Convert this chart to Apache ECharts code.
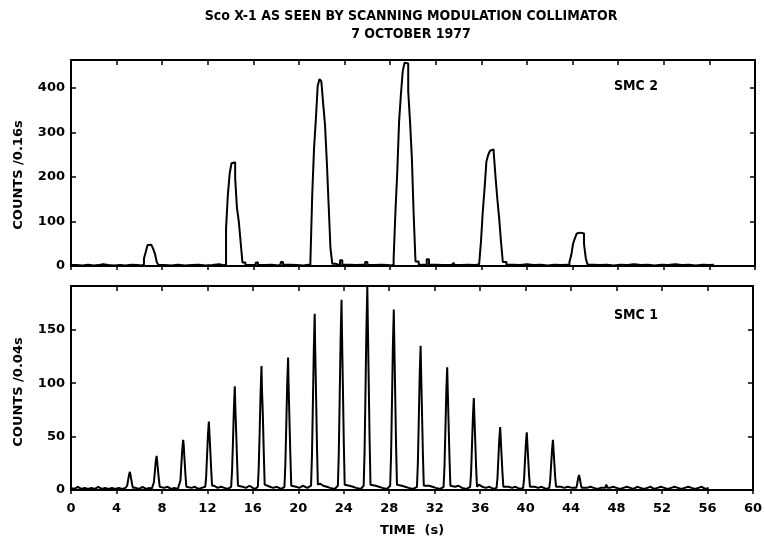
<!DOCTYPE html>
<html>
<head>
<meta charset="utf-8">
<script src="https://cdn.jsdelivr.net/npm/echarts@6/dist/echarts.min.js"></script>
<style>
  html, body { margin: 0; padding: 0; background: #fff; }
  #chart { width: 765px; height: 541px; }
</style>
</head>
<body>
<div id="chart"></div>
<script>
var xTicks = [0, 60, 4];          // min, max, step of TIME (s)
var smc2Ticks = [0, 463, 100];
var smc1Ticks = [0, 191, 50];

// SMC 2, counts per 0.16 s
var smc2Counts = [
    [0, 2], [0.5, 1], [1.0, 3], [1.5, 1], [2.0, 2], [2.4, 4], [2.8, 2], [3.3, 1], [3.8, 2], [4.3, 1], [4.8, 3], [5.3, 2], [5.8, 1], [6.2, 3],
    [6.4, 17], [6.56, 32], [6.72, 47], [6.88, 48], [7.04, 45], [7.2, 39], [7.36, 28], [7.52, 9], [7.68, 2],
    [8.2, 1], [8.8, 3], [9.4, 1], [10.0, 2], [10.6, 3], [11.2, 1], [11.8, 2], [12.4, 4], [13.0, 2], [13.4, 3],
    [13.6, 84], [13.76, 160], [13.92, 208], [14.08, 231], [14.24, 233], [14.4, 197], [14.56, 130], [14.72, 100], [14.88, 54], [15.04, 8],
    [15.3, 2], [15.8, 3], [16.2, 8], [16.4, 2], [17.0, 3], [17.6, 1], [18.2, 4], [18.4, 9], [18.6, 3], [19.2, 2], [19.8, 1], [20.4, 3], [20.8, 2],
    [21.0, 10], [21.16, 160], [21.32, 265], [21.48, 330], [21.64, 405], [21.8, 420], [21.96, 415], [22.12, 365], [22.28, 318], [22.44, 235], [22.6, 137], [22.76, 40], [22.92, 5],
    [23.2, 2], [23.6, 13], [23.8, 3], [24.4, 2], [25.0, 3], [25.6, 1], [25.8, 9], [26.0, 2], [26.6, 3], [27.2, 2], [27.8, 1], [28.1, 3],
    [28.3, 17], [28.46, 122], [28.62, 212], [28.78, 325], [28.94, 386], [29.1, 438], [29.26, 457], [29.42, 455], [29.58, 393], [29.74, 325], [29.9, 243], [30.06, 115], [30.22, 10],
    [30.5, 3], [31.0, 2], [31.2, 15], [31.4, 3], [32.0, 2], [32.6, 3], [33.4, 7], [33.6, 2], [34.2, 3], [34.8, 2], [35.4, 4], [35.8, 2],
    [35.96, 54], [36.12, 122], [36.28, 175], [36.44, 235], [36.6, 250], [36.76, 259], [36.92, 262], [37.08, 255], [37.24, 200], [37.4, 150], [37.56, 107], [37.72, 54], [37.88, 9],
    [38.2, 3], [38.8, 2], [39.4, 4], [40.0, 2], [40.6, 3], [41.2, 1], [41.8, 3], [42.4, 2], [43.0, 3], [43.5, 2],
    [43.72, 9], [43.88, 24], [44.04, 50], [44.2, 62], [44.36, 73], [44.52, 75], [44.68, 74], [44.84, 73], [45.0, 50], [45.16, 17], [45.32, 3],
    [45.8, 2], [46.4, 3], [47.0, 1], [47.6, 3], [48.2, 2], [48.8, 4], [49.4, 2], [50.0, 3], [50.6, 1], [51.2, 3], [51.8, 2], [52.4, 4],
    [53.0, 2], [53.6, 3], [54.2, 1], [54.8, 3], [55.4, 2], [56.0, 3], [56.4, 2]
];

// SMC 1, counts per 0.04 s
var smc1Counts = [
    [0, 2], [0.3, 1], [0.6, 3], [0.9, 1], [1.2, 2], [1.5, 1], [1.8, 2], [2.1, 1], [2.4, 3], [2.7, 1], [3.0, 2], [3.3, 1], [3.6, 2], [3.9, 1], [4.2, 2], [4.5, 1], [4.8, 2],
    [4.86, 2], [4.94, 4], [5.02, 9], [5.10, 14], [5.18, 17], [5.22, 15], [5.30, 10], [5.38, 5], [5.46, 2],
    [5.7, 2], [6.0, 1], [6.3, 3], [6.6, 1], [6.9, 2], [7.1, 1],
    [7.21, 2], [7.29, 7], [7.37, 16], [7.45, 26], [7.53, 32], [7.57, 28], [7.65, 19], [7.73, 10], [7.81, 3],
    [7.95, 4], [8.2, 2], [8.5, 3], [8.8, 1], [9.1, 2], [9.4, 1],
    [9.55, 2], [9.63, 9], [9.71, 24], [9.79, 38], [9.87, 47], [9.91, 43], [9.99, 28], [10.07, 14], [10.15, 3],
    [10.3, 3], [10.6, 2], [10.9, 3], [11.2, 1], [11.5, 2],
    [11.81, 3], [11.89, 12], [11.97, 32], [12.05, 52], [12.13, 64], [12.17, 55], [12.25, 38], [12.33, 20], [12.41, 4],
    [12.6, 4], [12.9, 2], [13.2, 3], [13.5, 2], [13.8, 1],
    [14.09, 3], [14.17, 18], [14.25, 45], [14.33, 75], [14.41, 97], [14.45, 80], [14.53, 55], [14.61, 28], [14.69, 4],
    [14.85, 5], [15.1, 3], [15.4, 2], [15.7, 4], [16.0, 2], [16.2, 1],
    [16.44, 3], [16.52, 22], [16.60, 55], [16.68, 90], [16.76, 116], [16.80, 95], [16.88, 70], [16.96, 35], [17.04, 5],
    [17.2, 5], [17.5, 3], [17.8, 2], [18.1, 3], [18.5, 1],
    [18.78, 3], [18.86, 24], [18.94, 60], [19.02, 98], [19.10, 124], [19.14, 100], [19.22, 66], [19.30, 32], [19.38, 4],
    [19.55, 5], [19.8, 3], [20.1, 2], [20.4, 4], [20.8, 2],
    [21.12, 4], [21.20, 32], [21.28, 80], [21.36, 130], [21.44, 165], [21.48, 135], [21.56, 90], [21.64, 42], [21.72, 5],
    [21.9, 6], [22.2, 4], [22.5, 3], [22.8, 2], [23.2, 1],
    [23.48, 4], [23.56, 34], [23.64, 86], [23.72, 140], [23.80, 178], [23.84, 148], [23.92, 98], [24.00, 45], [24.08, 5],
    [24.25, 6], [24.5, 4], [24.8, 3], [25.1, 2], [25.5, 1],
    [25.75, 4], [25.83, 36], [25.91, 92], [25.99, 150], [26.07, 190], [26.11, 160], [26.19, 104], [26.27, 48], [26.35, 5],
    [26.5, 6], [26.8, 4], [27.1, 3], [27.4, 2], [27.8, 1],
    [28.08, 4], [28.16, 32], [28.24, 82], [28.32, 135], [28.40, 169], [28.44, 142], [28.52, 92], [28.60, 42], [28.68, 5],
    [28.85, 6], [29.1, 4], [29.4, 3], [29.7, 2], [30.1, 1],
    [30.44, 3], [30.52, 26], [30.60, 66], [30.68, 108], [30.76, 135], [30.80, 112], [30.88, 74], [30.96, 34], [31.04, 4],
    [31.2, 5], [31.5, 4], [31.8, 3], [32.1, 2], [32.5, 1],
    [32.78, 3], [32.86, 22], [32.94, 56], [33.02, 92], [33.10, 115], [33.14, 96], [33.22, 63], [33.30, 30], [33.38, 4],
    [33.55, 5], [33.8, 3], [34.1, 4], [34.4, 2], [34.8, 1],
    [35.12, 3], [35.20, 16], [35.28, 42], [35.36, 68], [35.44, 86], [35.48, 72], [35.56, 48], [35.64, 22], [35.72, 3],
    [35.9, 5], [36.2, 3], [36.5, 2], [36.8, 3], [37.2, 1],
    [37.44, 2], [37.52, 11], [37.60, 29], [37.68, 47], [37.76, 59], [37.80, 50], [37.88, 33], [37.96, 16], [38.04, 3],
    [38.2, 4], [38.5, 3], [38.8, 2], [39.1, 3], [39.5, 1],
    [39.78, 2], [39.86, 10], [39.94, 27], [40.02, 43], [40.10, 54], [40.14, 46], [40.22, 30], [40.30, 14], [40.38, 3],
    [40.55, 4], [40.8, 3], [41.1, 2], [41.4, 3], [41.8, 1],
    [42.08, 2], [42.16, 9], [42.24, 23], [42.32, 37], [42.40, 47], [42.44, 40], [42.52, 26], [42.60, 12], [42.68, 3],
    [42.85, 4], [43.1, 3], [43.4, 2], [43.7, 3], [44.1, 2],
    [44.46, 2], [44.54, 6], [44.62, 11], [44.70, 14], [44.78, 10], [44.86, 5], [44.94, 2],
    [45.1, 3], [45.4, 2], [45.7, 3], [46.0, 2], [46.3, 1], [46.6, 2],
    [47.0, 2], [47.1, 5], [47.2, 2],
    [47.4, 2], [47.7, 3], [48.0, 2], [48.3, 1], [48.6, 2], [48.9, 3], [49.2, 2], [49.5, 1], [49.8, 3], [50.1, 2], [50.4, 1], [50.7, 2],
    [51.0, 3], [51.3, 1], [51.6, 2], [51.9, 3], [52.2, 2], [52.5, 1], [52.8, 2], [53.1, 3], [53.4, 2], [53.7, 1], [54.0, 2], [54.3, 3],
    [54.6, 2], [54.9, 1], [55.2, 2], [55.5, 3], [55.8, 1], [56.1, 2]
];

var chart = echarts.init(document.getElementById('chart'));
var font = 'DejaVu Sans';
var black = '#000';

function timeAxis(grid, pos, labels) {
    return {
        type: 'value',
        gridIndex: grid,
        position: pos,
        min: xTicks[0],
        max: xTicks[1],
        interval: xTicks[2],
        axisLine: { onZero: false, lineStyle: { color: black, width: 2 } },
        axisTick: { inside: pos === 'top', length: pos === 'top' ? 5 : 4, lineStyle: { color: black, width: 1.5 } },
        axisLabel: { show: labels, margin: 12, color: black, fontFamily: font, fontWeight: 'bold', fontSize: 13 },
        splitLine: { show: false },
        name: labels ? 'TIME  (s)' : '',
        nameLocation: 'middle',
        nameGap: 34,
        nameTextStyle: { color: black, fontFamily: font, fontWeight: 'bold', fontSize: 13 }
    };
}

function countAxis(grid, pos, ticks, name, shift) {
    return {
        type: 'value',
        gridIndex: grid,
        position: pos,
        min: ticks[0],
        max: ticks[1],
        interval: ticks[2],
        axisLine: { onZero: false, lineStyle: { color: black, width: 2 } },
        axisTick: { inside: true, length: 5, lineStyle: { color: black, width: 1.5 } },
        axisLabel: { show: pos === 'left', showMaxLabel: false, margin: 6, color: black, fontFamily: font, fontWeight: 'bold', fontSize: 13 },
        splitLine: { show: false },
        name: name,
        nameLocation: 'middle',
        nameRotate: 90,
        nameGap: 46,
        nameTextStyle: { color: black, fontFamily: font, fontWeight: 'bold', fontSize: 13, padding: [0, shift || 0, 0, 0] }
    };
}

var option = {
    animation: false,
    backgroundColor: '#fff',
    title: [
        {
            text: 'Sco X-1 AS SEEN BY SCANNING MODULATION COLLIMATOR',
            left: 411, top: 9, textAlign: 'center', padding: 0,
            textStyle: { color: black, fontFamily: 'DejaVu Sans Condensed', fontWeight: 'bold', fontSize: 14 }
        },
        {
            text: '7 OCTOBER 1977',
            left: 411, top: 27, textAlign: 'center', padding: 0,
            textStyle: { color: black, fontFamily: 'DejaVu Sans Condensed', fontWeight: 'bold', fontSize: 14 }
        },
        {
            text: 'SMC 2', left: 614, top: 79, padding: 0,
            textStyle: { color: black, fontFamily: 'DejaVu Sans Condensed', fontWeight: 'bold', fontSize: 14 }
        },
        {
            text: 'SMC 1', left: 614, top: 308, padding: 0,
            textStyle: { color: black, fontFamily: 'DejaVu Sans Condensed', fontWeight: 'bold', fontSize: 14 }
        }
    ],
    grid: [
        { left: 71, right: 10, top: 60, height: 206 },
        { left: 71, right: 10, top: 286, height: 204 }
    ],
    xAxis: [
        timeAxis(0, 'bottom', false),
        timeAxis(0, 'top', false),
        timeAxis(1, 'bottom', true),
        timeAxis(1, 'top', false)
    ],
    yAxis: [
        countAxis(0, 'left', smc2Ticks, 'COUNTS /0.16s', 24),
        countAxis(0, 'right', smc2Ticks, ''),
        countAxis(1, 'left', smc1Ticks, 'COUNTS /0.04s', 8),
        countAxis(1, 'right', smc1Ticks, '')
    ],
    series: [
        {
            name: 'SMC 2',
            type: 'line',
            xAxisIndex: 0,
            yAxisIndex: 0,
            step: 'end',
            showSymbol: false,
            lineStyle: { color: black, width: 2 },
            data: smc2Counts
        },
        {
            name: 'SMC 1',
            type: 'line',
            xAxisIndex: 2,
            yAxisIndex: 2,
            showSymbol: false,
            lineStyle: { color: black, width: 2 },
            data: smc1Counts
        }
    ]
};
chart.setOption(option);
</script>
</body>
</html>
